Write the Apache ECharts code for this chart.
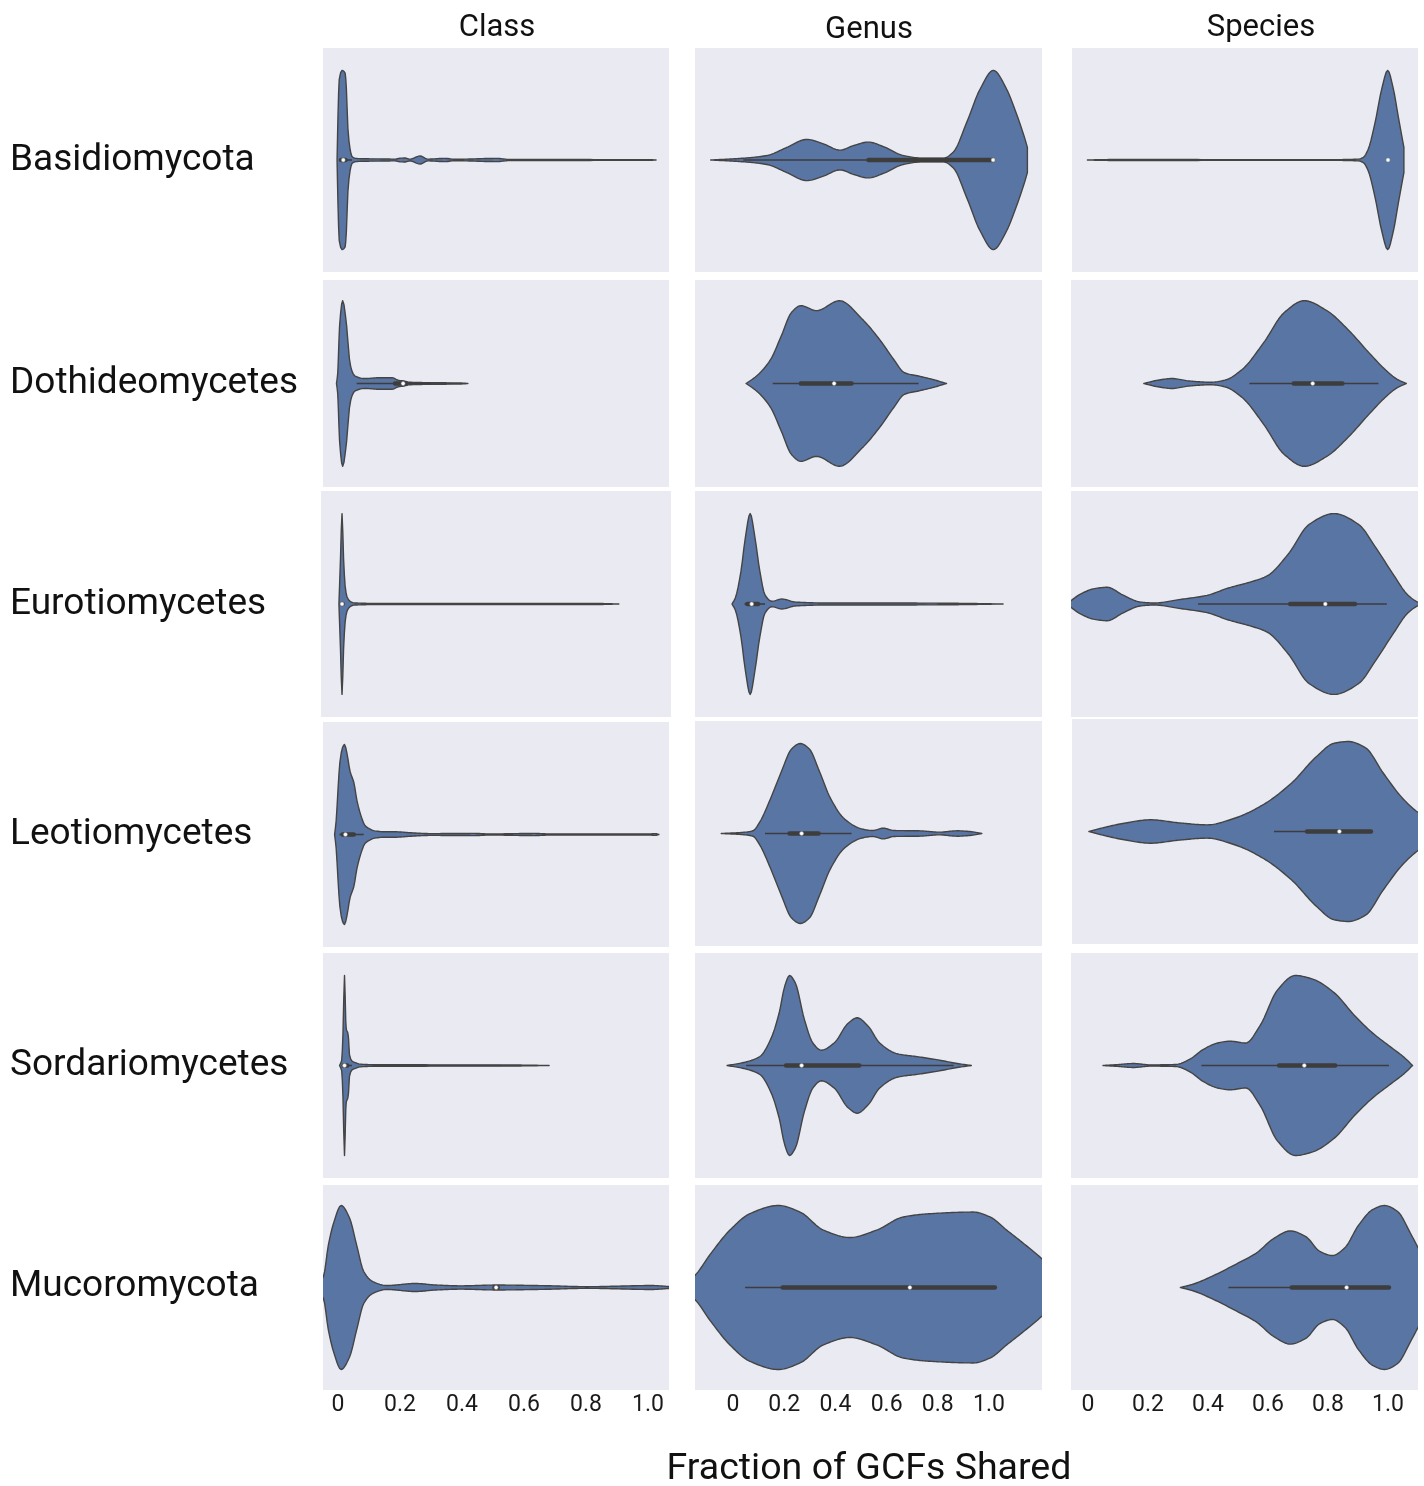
<!DOCTYPE html>
<html>
<head>
<meta charset="utf-8">
<script src="https://cdn.jsdelivr.net/npm/echarts@6/dist/echarts.min.js"></script>
<style>
  html, body { margin: 0; padding: 0; background: #ffffff; }
  #chart { width: 1424px; height: 1486px; }
</style>
</head>
<body>
<div id="chart"></div>
<script>
// ---------------------------------------------------------------------------
// Categories and tick labels
// ---------------------------------------------------------------------------
const rowNames = ['Basidiomycota', 'Dothideomycetes', 'Eurotiomycetes', 'Leotiomycetes', 'Sordariomycetes', 'Mucoromycota'];
const colNames = ['Class', 'Genus', 'Species'];
const tickValues = [0, 0.2, 0.4, 0.6, 0.8, 1.0];
const axisTitle = 'Fraction of GCFs Shared';

// ---------------------------------------------------------------------------
// Violin outlines: [fraction shared, relative half-width (1 = widest)]
// ---------------------------------------------------------------------------
const classBasidiomycota = [[-0.003, 0], [0.0, 0.5], [0.004, 0.9], [0.013, 1.0], [0.023, 0.97], [0.027, 0.8], [0.032, 0.35], [0.039, 0.12], [0.045, 0.04], [0.055, 0.02], [0.071, 0.015], [0.135, 0.012], [0.184, 0.01], [0.2, 0.02], [0.216, 0.022], [0.232, 0.01], [0.265, 0.045], [0.29, 0.01], [0.345, 0.018], [0.377, 0.008], [0.513, 0.018], [0.552, 0.006], [0.716, 0.005], [1.006, 0.004], [1.026, 0]];
const genusBasidiomycota = [[-0.087, 0], [0.04, 0.02], [0.132, 0.05], [0.21, 0.14], [0.288, 0.23], [0.353, 0.18], [0.418, 0.11], [0.47, 0.16], [0.529, 0.2], [0.587, 0.15], [0.665, 0.05], [0.743, 0.02], [0.822, 0.02], [0.861, 0.09], [0.913, 0.42], [0.965, 0.79], [1.017, 1.0], [1.069, 0.79], [1.095, 0.61], [1.141, 0.23], [1.15, 0.14]];
const speciesBasidiomycota = [[-0.002, 0], [0.073, 0.005], [0.207, 0.006], [0.479, 0.004], [0.812, 0.004], [0.901, 0.01], [0.918, 0.03], [0.934, 0.12], [0.957, 0.42], [0.979, 0.79], [0.999, 1.0], [1.018, 0.79], [1.034, 0.49], [1.048, 0.23], [1.053, 0.14]];

const classDothideomycetes = [[-0.005, 0], [-0.001, 0.12], [0.001, 0.29], [0.005, 0.69], [0.015, 1.0], [0.028, 0.69], [0.037, 0.29], [0.045, 0.15], [0.055, 0.09], [0.087, 0.06], [0.135, 0.07], [0.174, 0.07], [0.194, 0.04], [0.213, 0.03], [0.232, 0.015], [0.297, 0.01], [0.394, 0.006], [0.419, 0]];
const genusDothideomycetes = [[0.051, 0], [0.092, 0.09], [0.147, 0.29], [0.188, 0.57], [0.229, 0.86], [0.265, 0.94], [0.326, 0.88], [0.416, 1.0], [0.504, 0.78], [0.573, 0.53], [0.628, 0.29], [0.67, 0.13], [0.725, 0.09], [0.779, 0.05], [0.834, 0]];
const speciesDothideomycetes = [[0.186, 0], [0.233, 0.04], [0.28, 0.06], [0.338, 0.03], [0.409, 0.015], [0.456, 0.04], [0.514, 0.17], [0.585, 0.49], [0.655, 0.86], [0.721, 1.0], [0.796, 0.88], [0.867, 0.65], [0.937, 0.37], [0.996, 0.15], [1.031, 0.05], [1.061, 0]];

const classEurotiomycetes = [[0.003, 0], [0.008, 0.5], [0.013, 1.0], [0.018, 0.5], [0.023, 0.2], [0.029, 0.08], [0.039, 0.03], [0.052, 0.012], [0.135, 0.006], [0.523, 0.005], [0.845, 0.005], [0.906, 0]];
const genusEurotiomycetes = [[-0.004, 0], [0.009, 0.066], [0.031, 0.36], [0.048, 0.73], [0.067, 1.0], [0.086, 0.73], [0.105, 0.36], [0.125, 0.1], [0.152, 0.03], [0.191, 0.055], [0.243, 0.022], [0.367, 0.011], [0.587, 0.011], [0.862, 0.008], [1.055, 0]];
const speciesEurotiomycetes = [[-0.06, 0.03], [-0.025, 0.11], [0.022, 0.17], [0.064, 0.185], [0.116, 0.1], [0.174, 0.022], [0.221, 0.011], [0.303, 0.048], [0.397, 0.096], [0.468, 0.177], [0.538, 0.24], [0.597, 0.31], [0.667, 0.55], [0.737, 0.88], [0.82, 1.0], [0.902, 0.88], [0.96, 0.62], [1.019, 0.32], [1.066, 0.1], [1.1, 0.02], [1.12, 0]];

const classLeotiomycetes = [[-0.011, 0], [-0.006, 0.15], [0.0, 0.5], [0.006, 0.8], [0.015, 0.97], [0.021, 1.0], [0.029, 0.9], [0.039, 0.7], [0.051, 0.58], [0.061, 0.38], [0.074, 0.21], [0.087, 0.1], [0.101, 0.065], [0.119, 0.04], [0.152, 0.03], [0.184, 0.03], [0.232, 0.02], [0.297, 0.01], [0.442, 0.012], [0.49, 0.006], [0.635, 0.012], [0.684, 0.006], [1.006, 0.006], [1.023, 0.01], [1.035, 0]];
const genusLeotiomycetes = [[-0.046, 0], [0.037, 0.012], [0.078, 0.03], [0.105, 0.13], [0.147, 0.39], [0.188, 0.68], [0.229, 0.94], [0.263, 1.0], [0.298, 0.94], [0.339, 0.68], [0.381, 0.39], [0.436, 0.16], [0.504, 0.05], [0.546, 0.033], [0.587, 0.06], [0.628, 0.033], [0.725, 0.03], [0.807, 0.015], [0.876, 0.03], [0.931, 0.02], [0.972, 0]];
const speciesLeotiomycetes = [[0.003, 0], [0.045, 0.037], [0.116, 0.089], [0.209, 0.13], [0.303, 0.096], [0.397, 0.074], [0.491, 0.15], [0.585, 0.3], [0.679, 0.54], [0.761, 0.83], [0.82, 0.98], [0.867, 1.0], [0.925, 0.93], [0.984, 0.65], [1.043, 0.39], [1.089, 0.24], [1.14, 0.12], [1.17, 0]];

const classSordariomycetes = [[0.005, 0], [0.012, 0.06], [0.016, 0.35], [0.021, 1.0], [0.025, 0.5], [0.027, 0.4], [0.031, 0.37], [0.034, 0.3], [0.037, 0.12], [0.045, 0.05], [0.058, 0.03], [0.071, 0.015], [0.135, 0.008], [0.523, 0.007], [0.681, 0]];
const genusSordariomycetes = [[-0.023, 0], [0.037, 0.03], [0.105, 0.1], [0.147, 0.29], [0.18, 0.58], [0.202, 0.88], [0.221, 1.0], [0.243, 0.92], [0.279, 0.51], [0.312, 0.25], [0.345, 0.17], [0.395, 0.25], [0.45, 0.47], [0.485, 0.53], [0.527, 0.44], [0.573, 0.25], [0.642, 0.13], [0.725, 0.096], [0.807, 0.059], [0.876, 0.022], [0.931, 0]];
const speciesSordariomycetes = [[0.05, 0], [0.104, 0.011], [0.151, 0.022], [0.209, 0.007], [0.292, 0.011], [0.338, 0.067], [0.385, 0.18], [0.432, 0.25], [0.474, 0.27], [0.526, 0.25], [0.573, 0.44], [0.632, 0.84], [0.691, 1.0], [0.749, 0.96], [0.82, 0.81], [0.89, 0.55], [0.949, 0.36], [1.007, 0.21], [1.054, 0.09], [1.082, 0]];

const classMucoromycota = [[-0.09, 0], [-0.065, 0.06], [-0.047, 0.134], [-0.031, 0.52], [-0.013, 0.8], [0.01, 1.0], [0.037, 0.85], [0.06, 0.52], [0.083, 0.195], [0.112, 0.073], [0.158, 0.024], [0.248, 0.049], [0.317, 0.03], [0.396, 0.02], [0.51, 0.03], [0.669, 0.022], [0.805, 0.01], [1.009, 0.024], [1.073, 0.01], [1.1, 0]];
const genusMucoromycota = [[-0.22, 0], [-0.19, 0.05], [-0.148, 0.15], [-0.09, 0.4], [-0.012, 0.7], [0.066, 0.9], [0.177, 1.0], [0.262, 0.92], [0.353, 0.7], [0.457, 0.61], [0.561, 0.7], [0.665, 0.86], [0.77, 0.9], [0.939, 0.92], [1.004, 0.86], [1.069, 0.7], [1.134, 0.54], [1.21, 0.34], [1.26, 0.18], [1.3, 0]];
const speciesMucoromycota = [[0.308, 0], [0.35, 0.04], [0.421, 0.15], [0.491, 0.28], [0.561, 0.42], [0.62, 0.6], [0.674, 0.69], [0.726, 0.62], [0.773, 0.44], [0.815, 0.39], [0.855, 0.48], [0.902, 0.76], [0.949, 0.95], [0.988, 1.0], [1.031, 0.93], [1.078, 0.64], [1.123, 0.33], [1.173, 0.05], [1.19, 0]];

// ---------------------------------------------------------------------------
// Inner box statistics: [lower whisker, Q1, median, Q3, upper whisker]
// ---------------------------------------------------------------------------
const boxClassBasidiomycota = [0.003, 0.01, 0.017, 0.024, 0.045];
const boxGenusBasidiomycota = [0.04, 0.529, 1.016, 1.016, 1.016];
const boxSpeciesBasidiomycota = [1.0, 1.0, 1.0, 1.0, 1.0];
const boxClassDothideomycetes = [0.06, 0.184, 0.21, 0.219, 0.3];
const boxGenusDothideomycetes = [0.155, 0.265, 0.395, 0.463, 0.725];
const boxSpeciesDothideomycetes = [0.538, 0.686, 0.749, 0.848, 0.968];
const boxClassEurotiomycetes = [0.01, 0.012, 0.013, 0.015, 0.02];
const boxGenusEurotiomycetes = [0.045, 0.056, 0.073, 0.098, 0.125];
const boxSpeciesEurotiomycetes = [0.367, 0.674, 0.791, 0.89, 0.996];
const boxClassLeotiomycetes = [0.005, 0.015, 0.024, 0.051, 0.083];
const boxGenusLeotiomycetes = [0.125, 0.221, 0.268, 0.334, 0.463];
const boxSpeciesLeotiomycetes = [0.62, 0.73, 0.838, 0.943, 0.943];
const boxClassSordariomycetes = [0.015, 0.018, 0.021, 0.03, 0.045];
const boxGenusSordariomycetes = [0.051, 0.207, 0.268, 0.493, 0.862];
const boxSpeciesSordariomycetes = [0.378, 0.637, 0.721, 0.824, 1.003];
const boxClassMucoromycota = [0.5, 0.505, 0.51, 0.515, 0.52];
const boxGenusMucoromycota = [0.047, 0.194, 0.691, 1.023, 1.023];
const boxSpeciesMucoromycota = [0.468, 0.679, 0.862, 1.003, 1.003];

const profiles = [
  [classBasidiomycota, genusBasidiomycota, speciesBasidiomycota],
  [classDothideomycetes, genusDothideomycetes, speciesDothideomycetes],
  [classEurotiomycetes, genusEurotiomycetes, speciesEurotiomycetes],
  [classLeotiomycetes, genusLeotiomycetes, speciesLeotiomycetes],
  [classSordariomycetes, genusSordariomycetes, speciesSordariomycetes],
  [classMucoromycota, genusMucoromycota, speciesMucoromycota]
];
const boxes = [
  [boxClassBasidiomycota, boxGenusBasidiomycota, boxSpeciesBasidiomycota],
  [boxClassDothideomycetes, boxGenusDothideomycetes, boxSpeciesDothideomycetes],
  [boxClassEurotiomycetes, boxGenusEurotiomycetes, boxSpeciesEurotiomycetes],
  [boxClassLeotiomycetes, boxGenusLeotiomycetes, boxSpeciesLeotiomycetes],
  [boxClassSordariomycetes, boxGenusSordariomycetes, boxSpeciesSordariomycetes],
  [boxClassMucoromycota, boxGenusMucoromycota, boxSpeciesMucoromycota]
];

// ---------------------------------------------------------------------------
// Layout: panel rectangles [left, top, right, bottom] and per-column x scale
// ---------------------------------------------------------------------------
const panelRects = [
  [[323, 48, 669, 272], [695, 48, 1042, 272], [1072, 48, 1418, 272]],
  [[323, 280, 669, 487], [695, 280, 1042, 487], [1071, 280, 1418, 487]],
  [[321, 491, 671, 717], [695, 491, 1042, 717], [1071, 491, 1418, 717]],
  [[323, 722, 669, 947], [695, 721, 1042, 946], [1072, 719, 1418, 944]],
  [[323, 953, 669, 1178], [695, 953, 1042, 1178], [1071, 953, 1418, 1178]],
  [[323, 1185, 669, 1390], [695, 1185, 1042, 1390], [1071, 1185, 1418, 1390]]
];
const colScale = [{ zero: 338, unit: 310 }, { zero: 733, unit: 256 }, { zero: 1088, unit: 300 }];
const rowLabelY = [161, 384, 605, 835, 1066, 1287];
const colTitleX = [497, 869, 1261];
const colTitleY = [28, 30, 28];

const FILL = '#5975a4';
const EDGE = '#444444';
const INNER = '#3d3d3d';
const FONT = 'Roboto, "Noto Sans", sans-serif';

// Monotone cubic (Fritsch-Carlson) through pixel points so the outline never overshoots.
function monotoneSample(pts) {
  const n = pts.length;
  if (n < 3) return pts.slice();
  const dx = [], m = [], t = new Array(n);
  for (let i = 0; i < n - 1; i++) {
    dx[i] = Math.max(1e-6, pts[i + 1][0] - pts[i][0]);
    m[i] = (pts[i + 1][1] - pts[i][1]) / dx[i];
  }
  t[0] = m[0];
  t[n - 1] = m[n - 2];
  for (let i = 1; i < n - 1; i++) {
    if (m[i - 1] * m[i] <= 0) {
      t[i] = 0;
    } else {
      const w1 = 2 * dx[i] + dx[i - 1];
      const w2 = dx[i] + 2 * dx[i - 1];
      t[i] = (w1 + w2) / (w1 / m[i - 1] + w2 / m[i]);
    }
  }
  const out = [];
  for (let i = 0; i < n - 1; i++) {
    const steps = Math.max(2, Math.min(24, Math.ceil(dx[i] / 1.5)));
    const x0 = pts[i][0], y0 = pts[i][1], y1 = pts[i + 1][1], h = dx[i];
    for (let s = 0; s < steps; s++) {
      const u = s / steps, u2 = u * u, u3 = u2 * u;
      const y = (2 * u3 - 3 * u2 + 1) * y0 + (u3 - 2 * u2 + u) * h * t[i] +
                (-2 * u3 + 3 * u2) * y1 + (u3 - u2) * h * t[i + 1];
      out.push([x0 + u * h, y]);
    }
  }
  out.push(pts[n - 1]);
  return out;
}

function makeViolin(profile, box) {
  return function (params, api) {
    const cy = api.coord([0, 0])[1];
    const upper = monotoneSample(profile.map(p => api.coord([p[0], p[1]])));
    // keep the outline on its own side of the centre line
    for (const p of upper) { if (p[1] > cy) p[1] = cy; }
    const lower = upper.slice().reverse().map(p => [p[0], 2 * cy - p[1]]);
    const px = v => api.coord([v, 0])[0];
    return {
      type: 'group',
      children: [
        {
          type: 'polygon',
          shape: { points: upper.concat(lower) },
          style: { fill: FILL, stroke: EDGE, lineWidth: 1.4, lineJoin: 'round' }
        },
        {
          type: 'line',
          shape: { x1: px(box[0]), y1: cy, x2: px(box[4]), y2: cy },
          style: { stroke: INNER, lineWidth: 1.6 }
        },
        {
          type: 'line',
          shape: { x1: px(box[1]), y1: cy, x2: px(box[3]), y2: cy },
          style: { stroke: INNER, lineWidth: 4.5, lineCap: 'round' }
        },
        {
          type: 'circle',
          shape: { cx: px(box[2]), cy: cy, r: 2 },
          style: { fill: '#ffffff', stroke: '#8a8a8a', lineWidth: 0.5 }
        }
      ]
    };
  };
}

const grids = [], xAxes = [], yAxes = [], series = [];
rowNames.forEach((rowName, r) => {
  colNames.forEach((colName, c) => {
    const i = r * 3 + c;
    const [l, t, rt, b] = panelRects[r][c];
    const sc = colScale[c];
    grids.push({
      left: l, top: t, width: rt - l, height: b - t,
      show: true, backgroundColor: '#eaeaf2', borderWidth: 0,
      outerBoundsMode: 'none'
    });
    xAxes.push({
      gridIndex: i, type: 'value',
      min: (l - sc.zero) / sc.unit, max: (rt - sc.zero) / sc.unit,
      axisLine: { show: false }, axisTick: { show: false }, splitLine: { show: false },
      axisLabel: r === rowNames.length - 1 ? {
        show: true,
        customValues: tickValues,
        formatter: v => (v === 0 ? '0' : v.toFixed(1)),
        fontFamily: FONT, fontSize: 23, color: '#1a1a1a', margin: 4
      } : { show: false }
    });
    yAxes.push({ gridIndex: i, type: 'value', min: -1.25, max: 1.25, show: false });
    series.push({
      type: 'custom', name: rowName + ' / ' + colName,
      xAxisIndex: i, yAxisIndex: i, clip: true, silent: true,
      data: [[boxes[r][c][2], 0]], encode: { x: 0, y: 1 },
      renderItem: makeViolin(profiles[r][c], boxes[r][c])
    });
  });
});

const graphics = [];
rowNames.forEach((name, r) => {
  graphics.push({
    type: 'text', x: 10, y: rowLabelY[r], silent: true,
    style: { text: name, font: '37px ' + FONT, fill: '#111111', align: 'left', verticalAlign: 'middle' }
  });
});
colNames.forEach((name, c) => {
  graphics.push({
    type: 'text', x: colTitleX[c], y: colTitleY[c], silent: true,
    style: { text: name, font: '31px ' + FONT, fill: '#111111', align: 'center', verticalAlign: 'middle' }
  });
});
graphics.push({
  type: 'text', x: 869, y: 1470, silent: true,
  style: { text: axisTitle, font: '37.5px ' + FONT, fill: '#111111', align: 'center', verticalAlign: 'middle' }
});

const chart = echarts.init(document.getElementById('chart'), null, { renderer: 'canvas' });
chart.setOption({
  animation: false,
  backgroundColor: '#ffffff',
  grid: grids,
  xAxis: xAxes,
  yAxis: yAxes,
  series: series,
  graphic: graphics
});
</script>
</body>
</html>
